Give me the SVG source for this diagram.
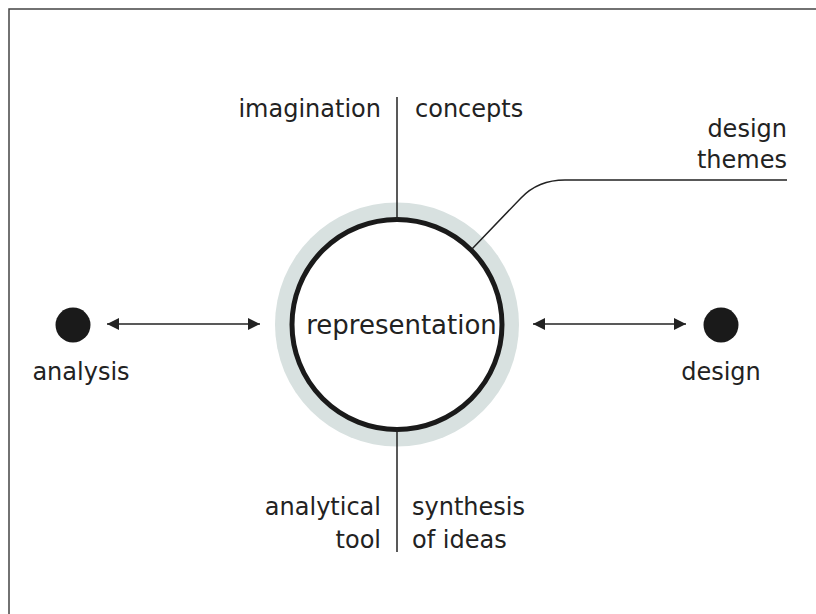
<svg xmlns="http://www.w3.org/2000/svg" width="816" height="614" viewBox="0 0 816 614">
<style>
text{font-family:"DejaVu Sans","Noto Sans",sans-serif;font-size:24px;fill:#222}
.r{text-anchor:end}
.m{text-anchor:middle}
.ln{stroke:#222;stroke-width:1.5;fill:none}
</style>
<defs>
<marker id="ah" viewBox="0 0 12 12" refX="12" refY="6" markerWidth="12" markerHeight="12" markerUnits="userSpaceOnUse" orient="auto-start-reverse">
<path d="M0,0 L12,6 L0,12 Z" fill="#222"/>
</marker>
</defs>
<rect width="816" height="614" fill="#fff"/>
<path d="M9,614 V9 H816" fill="none" stroke="#444" stroke-width="1.5"/>
<g id="representation">
<circle cx="397" cy="324.5" r="122" fill="#d8e1e0"/>
<circle cx="397" cy="324.5" r="105" fill="#fff" stroke="#1a1a1a" stroke-width="5"/>
<text class="m" x="401.5" y="334" style="font-size:26px">representation</text>
</g>
<g id="connectors">
<line class="ln" x1="397" y1="97" x2="397" y2="219"/>
<line class="ln" x1="397" y1="430" x2="397" y2="552"/>
<path class="ln" d="M472,249 L521,198 Q538,180 565,180 L787,180"/>
<line class="ln" x1="107" y1="324" x2="260" y2="324" marker-start="url(#ah)" marker-end="url(#ah)"/>
<line class="ln" x1="533" y1="324" x2="686" y2="324" marker-start="url(#ah)" marker-end="url(#ah)"/>
</g>
<g id="analysis">
<circle cx="73" cy="325" r="17.5" fill="#1a1a1a"/>
<text class="m" x="81" y="380">analysis</text>
</g>
<g id="design">
<circle cx="721" cy="325" r="17.5" fill="#1a1a1a"/>
<text class="m" x="721" y="380">design</text>
</g>
<g id="imagination"><text class="r" x="381" y="117">imagination</text></g>
<g id="concepts"><text x="415" y="117">concepts</text></g>
<g id="design-themes"><text class="r" x="787" y="137">design</text><text class="r" x="787" y="168">themes</text></g>
<g id="analytical-tool"><text class="r" x="381" y="515">analytical</text><text class="r" x="381" y="548">tool</text></g>
<g id="synthesis-of-ideas"><text x="412" y="515">synthesis</text><text x="412" y="548">of ideas</text></g>
</svg>
